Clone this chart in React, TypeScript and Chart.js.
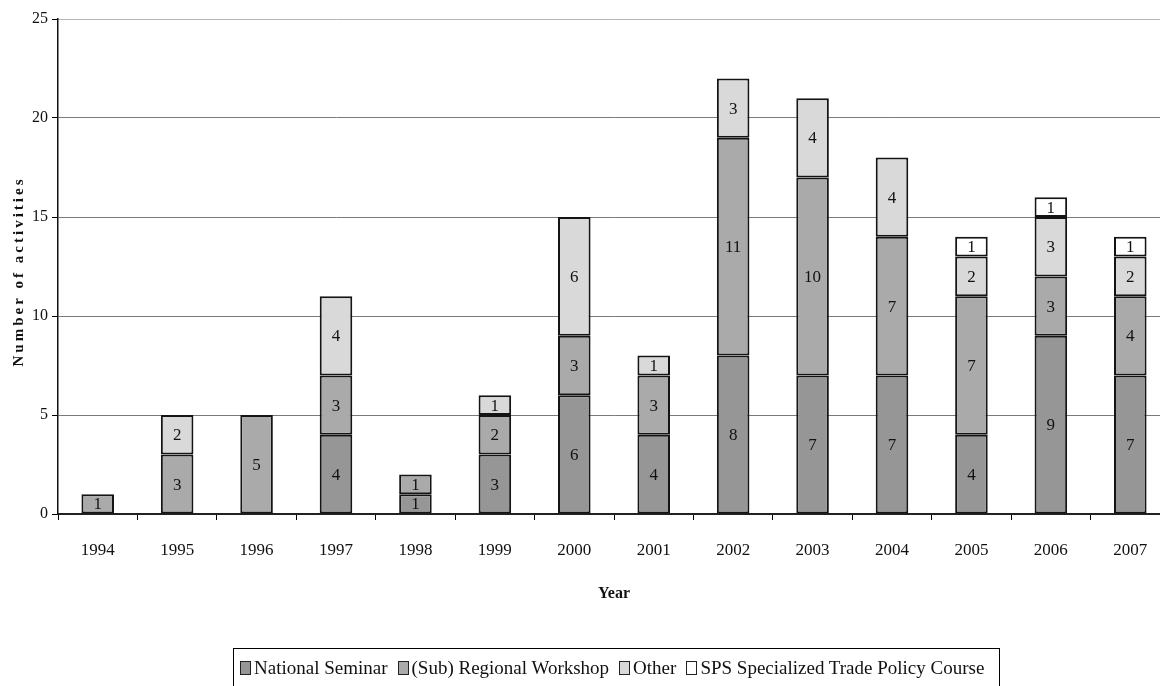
import React, { useEffect, useRef } from "react";
import { Chart, registerables } from "chart.js";

Chart.register(...registerables);

const years = ["1994","1995","1996","1997","1998","1999","2000","2001","2002","2003","2004","2005","2006","2007"];
const nationalSeminar = [0, 0, 0, 4, 1, 3, 6, 4, 8, 7, 7, 4, 9, 7];
const regionalWorkshop = [1, 3, 5, 3, 1, 2, 3, 3, 11, 10, 7, 7, 3, 4];
const other = [0, 2, 0, 4, 0, 1, 6, 1, 3, 4, 4, 2, 3, 2];
const spsCourse = [0, 0, 0, 0, 0, 0, 0, 0, 0, 0, 0, 1, 1, 1];
const seriesNames = ["National Seminar", "(Sub) Regional Workshop", "Other", "SPS Specialized Trade Policy Course"];
const seriesColors = ["#969696", "#aaaaaa", "#d9d9d9", "#ffffff"];
const yTitle = "Number of activities";
const xTitle = "Year";

const FONT = "'Liberation Serif', 'Times New Roman', serif";

const labelsPlugin = {
  id: "segLabels",
  afterDatasetsDraw(chart: any) {
    const ctx = chart.ctx;
    ctx.save();
    ctx.font = `17px ${FONT}`;
    ctx.fillStyle = "#111";
    ctx.textAlign = "center";
    ctx.textBaseline = "middle";
    chart.data.datasets.forEach((ds: any, i: number) => {
      const meta = chart.getDatasetMeta(i);
      meta.data.forEach((el: any, j: number) => {
        const v = ds.data[j];
        if (v && v > 0) {
          ctx.fillText(String(v), el.x, (el.y + el.base) / 2 + 1);
        }
      });
    });
    ctx.restore();
  },
  afterDraw(chart: any) {
    const ctx = chart.ctx;
    const a = chart.chartArea;
    ctx.save();
    ctx.fillStyle = "#111";
    ctx.font = `bold 15px ${FONT}`;
    (ctx as any).letterSpacing = "3px";
    ctx.translate(19, (a.top + a.bottom) / 2 + 5);
    ctx.rotate(-Math.PI / 2);
    ctx.textAlign = "center";
    ctx.textBaseline = "middle";
    ctx.fillText(yTitle, 0, 0);
    ctx.restore();
    ctx.save();
    ctx.fillStyle = "#111";
    ctx.font = `bold 16px ${FONT}`;
    ctx.textAlign = "center";
    ctx.textBaseline = "middle";
    ctx.fillText(xTitle, (a.left + a.right) / 2, 594);
    ctx.restore();
  },
};

export default function App() {
  const ref = useRef<HTMLCanvasElement>(null);
  useEffect(() => {
    const series = [nationalSeminar, regionalWorkshop, other, spsCourse];
    const chart = new Chart(ref.current as HTMLCanvasElement, {
      type: "bar",
      data: {
        labels: years,
        datasets: series.map((d, i) => ({
          label: seriesNames[i],
          data: d.map((v) => (v > 0 ? v : null)),
          backgroundColor: seriesColors[i],
          borderColor: "#141414",
          borderWidth: 2,
          borderSkipped: false,
          barPercentage: 0.41,
          categoryPercentage: 1,
        })),
      },
      options: {
        responsive: false,
        animation: false,
        devicePixelRatio: 1,
        layout: { padding: { top: 19, right: 2, left: 0, bottom: 0 } },
        plugins: { legend: { display: false }, tooltip: { enabled: false } },
        scales: {
          x: {
            stacked: true,
            afterFit: (s: any) => { s.height = 172; },
            grid: { drawOnChartArea: false, drawTicks: true, tickLength: 6, tickColor: "#000", tickWidth: 1, offset: true },
            border: { display: true, color: "#222", width: 2 },
            ticks: { color: "#111", font: { family: FONT, size: 17 }, padding: 20, maxRotation: 0 },
          },
          y: {
            stacked: true,
            min: 0,
            max: 25,
            afterFit: (s: any) => { s.width = 58; },
            grid: {
              color: (c: any) => (c.tick && c.tick.value === 25 ? "#b5b5b5" : "#7a7a7a"),
              lineWidth: 1,
              tickLength: 6,
              tickColor: "#000",
            },
            border: { display: true, color: "#111", width: 1.5 },
            ticks: { stepSize: 5, color: "#111", font: { family: FONT, size: 16 }, padding: 4 },
          },
        },
      },
      plugins: [labelsPlugin],
    });
    return () => chart.destroy();
  }, []);

  return (
    <div style={{ position: "absolute", left: 0, top: 0, width: 1160, height: 686, overflow: "hidden", background: "#fff" }}>
      <canvas ref={ref} width={1172} height={686} style={{ display: "block" }} />
      <div
        style={{
          position: "absolute",
          left: 233,
          top: 648,
          width: 767,
          height: 60,
          border: "1px solid #000",
          boxSizing: "border-box",
          display: "flex",
          alignItems: "flex-start",
          paddingTop: 9,
          paddingLeft: 6,
          fontFamily: FONT,
          fontSize: 19,
          lineHeight: "20px",
          color: "#111",
          whiteSpace: "nowrap",
        }}
      >
        {seriesNames.map((n, i) => (
          <div key={n} style={{ display: "flex", alignItems: "center", marginRight: 10 }}>
            <span
              style={{
                display: "inline-block",
                width: 9,
                height: 12,
                background: seriesColors[i],
                border: "1.5px solid #222",
                marginRight: 3,
              }}
            />
            <span>{n}</span>
          </div>
        ))}
      </div>
    </div>
  );
}
